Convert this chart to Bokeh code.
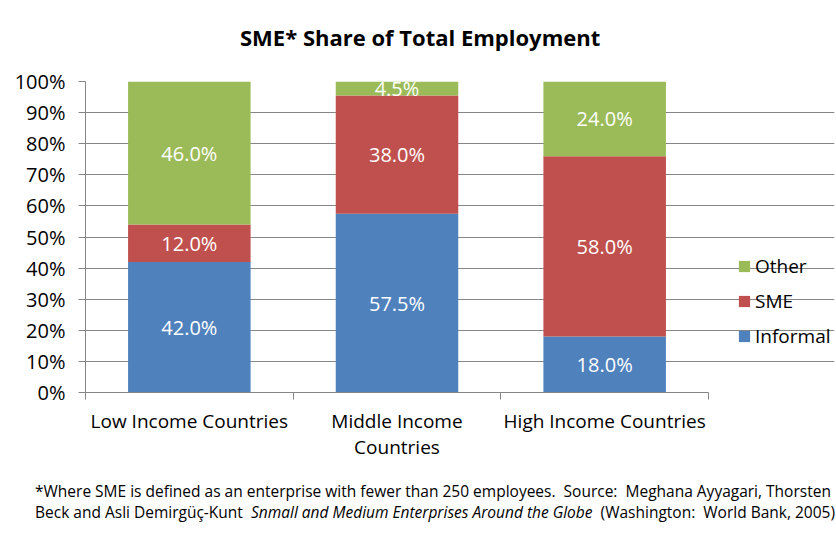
from bokeh.plotting import figure
from bokeh.models import (ColumnDataSource, Range1d, FixedTicker, LinearAxis, Legend,
                          LegendItem, LabelSet, PrintfTickFormatter, Grid, Div)
from bokeh.layouts import column
from bokeh.core.properties import value
from bokeh.embed import file_html
from bokeh.resources import INLINE

categories = ["Low Income Countries", "Middle Income\nCountries", "High Income Countries"]
informal = [42.0, 57.5, 18.0]
sme = [12.0, 38.0, 58.0]
other = [46.0, 4.5, 24.0]
series_keys = ["informal", "sme", "other"]
series_names = ["Informal", "SME", "Other"]
colors = ["#4F81BD", "#C0504D", "#9BBB59"]
y_ticks = [0, 10, 20, 30, 40, 50, 60, 70, 80, 90, 100]
title_text = "SME* Share of Total Employment"
note_line1 = "*Where SME is defined as an enterprise with fewer than 250 employees.  Source:  Meghana Ayyagari, Thorsten"
note_line2a = "Beck and Asli Demirgüç-Kunt  "
note_line2b = "Snmall and Medium Enterprises Around the Globe"
note_line2c = "  (Washington:  World Bank, 2005)"

FONT = "Open Sans"
GREY = "#868686"

n_cat = len(categories)
# layout (pixels)
FIG_W = 836
TITLE_H, FIG_H, NOTE_H = 52, 418, 73
LEFT, TOP, BOTTOM = 85, 81 - TITLE_H, 78
PLOT_RIGHT = 708          # where the category area ends
RIGHT_BORDER = 2
unit_px = (PLOT_RIGHT - LEFT) / n_cat
x_end = n_cat + (FIG_W - RIGHT_BORDER - PLOT_RIGHT) / unit_px

x = [i + 0.5 for i in range(n_cat)]
src = ColumnDataSource(dict(x=x, informal=informal, sme=sme, other=other))

p = figure(width=FIG_W, height=FIG_H, x_range=Range1d(0, x_end), y_range=Range1d(0, 100),
           output_backend="svg", toolbar_location=None, x_axis_type=None, y_axis_type=None,
           min_border_left=LEFT, min_border_top=TOP, min_border_right=RIGHT_BORDER,
           min_border_bottom=BOTTOM)
p.outline_line_color = None
p.background_fill_color = "white"
p.border_fill_color = "white"
p.title.standoff = 0

renderers = p.vbar_stack(series_keys, x="x", width=0.59, color=colors, source=src, line_color=None)

# segment labels
lx, ly, lt = [], [], []
for i in range(n_cat):
    base = 0.0
    for arr in (informal, sme, other):
        v = arr[i]
        lx.append(x[i]); ly.append(base + v / 2.0); lt.append(f"{v:.1f}%")
        base += v
lab_src = ColumnDataSource(dict(x=lx, y=ly, t=lt))
p.add_layout(LabelSet(x="x", y="y", text="t", source=lab_src, text_align="center",
                      text_baseline="middle", text_color="white", text_font=value(FONT),
                      text_font_size="20px"))

# y axis
yticker = FixedTicker(ticks=y_ticks)
yaxis = LinearAxis(ticker=yticker, formatter=PrintfTickFormatter(format="%d%%"))
yaxis.axis_line_color = GREY
yaxis.major_tick_line_color = GREY
yaxis.major_tick_out = 7
yaxis.major_tick_in = 0
yaxis.minor_tick_line_color = None
yaxis.major_label_text_font = FONT
yaxis.major_label_text_font_size = "20px"
yaxis.major_label_text_color = "black"
yaxis.major_label_standoff = 13
p.add_layout(yaxis, "left")

# x axis
xaxis = LinearAxis(ticker=FixedTicker(ticks=x, minor_ticks=list(range(n_cat + 1))),
                   bounds=(0, n_cat))
xaxis.major_label_overrides = {xi: c for xi, c in zip(x, categories)}
xaxis.axis_line_color = GREY
xaxis.major_tick_line_color = None
xaxis.major_tick_out = 0
xaxis.major_tick_in = 0
xaxis.minor_tick_line_color = GREY
xaxis.minor_tick_out = 7
xaxis.minor_tick_in = 0
xaxis.major_label_text_font = FONT
xaxis.major_label_text_font_size = "19px"
xaxis.major_label_text_color = "black"
xaxis.major_label_text_line_height = 1.0
xaxis.major_label_standoff = 8
p.add_layout(xaxis, "below")

p.add_layout(Grid(dimension=1, ticker=yticker, grid_line_color=GREY, bounds=(0, n_cat)))

legend = Legend(items=[LegendItem(label=n, renderers=[r]) for n, r in
                       reversed(list(zip(series_names, renderers)))],
                location=(737 - LEFT, 43))
legend.glyph_width = 14
legend.glyph_height = 14
legend.label_text_font = FONT
legend.label_text_font_size = "19px"
legend.label_text_color = "black"
legend.label_height = 26
legend.spacing = 9
legend.padding = 0
legend.margin = 0
legend.label_standoff = 4
legend.border_line_color = None
legend.background_fill_alpha = 0
p.add_layout(legend, "center")

title_html = (
    '<div style="font-family:\'Open Sans\'; font-weight:bold; font-size:22px; line-height:30px; '
    'color:black; white-space:pre; padding:22px 0 0 240px;">'
    f'{title_text}</div>'
)
title_div = Div(text=title_html, width=FIG_W, height=TITLE_H, margin=(0, 0, 0, 0))

note_html = (
    '<div style="font-family:\'Open Sans\'; font-size:15.5px; line-height:21px; color:black; '
    'white-space:pre; padding:11px 0 0 35px;">'
    f'{note_line1}<br>{note_line2a}<i>{note_line2b}</i>{note_line2c}</div>'
)
note = Div(text=note_html, width=FIG_W, height=NOTE_H, margin=(0, 0, 0, 0))

layout = column(title_div, p, note, spacing=0)
open("out.html", "w").write(file_html(layout, INLINE))
